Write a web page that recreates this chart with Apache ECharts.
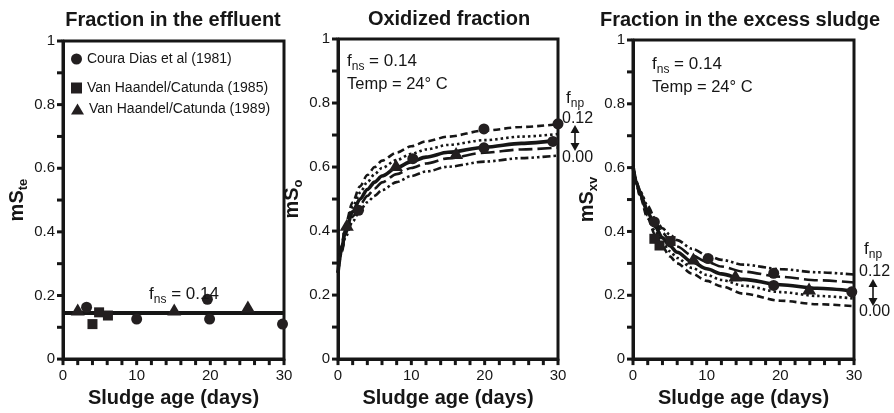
<!DOCTYPE html>
<html>
<head>
<meta charset="utf-8">
<title>Sulfate fractions vs sludge age</title>
<script src="https://cdn.jsdelivr.net/npm/echarts@6/dist/echarts.min.js"></script>
<style>
  html, body { margin: 0; padding: 0; background: #fff; }
  #chart { width: 894px; height: 413px; }
</style>
</head>
<body>
<div id="chart"></div>
<script>
// sample days used for the model curves
const curveDays = [0, 0.5, 1, 2, 3, 4, 5, 6, 8, 10, 12, 15, 20, 25, 30]

// tick positions (every 2 days, every 0.1)
const xTicks = [0, 2, 4, 6, 8, 10, 12, 14, 16, 18, 20, 22, 24, 26, 28, 30]
const yTicks = [0, 0.1, 0.2, 0.3, 0.4, 0.5, 0.6, 0.7, 0.8, 0.9, 1]

// panel 1 - fraction in the effluent
const effLevel = 0.145
const effCircles = [[3.2, 0.163], [10.0, 0.126], [19.6, 0.188], [19.9, 0.126], [29.8, 0.11]]
const effSquares = [[4.0, 0.11], [4.9, 0.147], [6.1, 0.137]]
const effTriangles = [[2.0, 0.156], [15.1, 0.156], [25.1, 0.165]]

// panel 2 - oxidized fraction (A short dash ... E dash-dot-dot)
const oxA = [0.27, 0.355, 0.42, 0.49, 0.54, 0.575, 0.60, 0.62, 0.645, 0.665, 0.68, 0.695, 0.714, 0.725, 0.734]
const oxB = [0.27, 0.35, 0.41, 0.475, 0.52, 0.553, 0.578, 0.597, 0.622, 0.641, 0.655, 0.669, 0.684, 0.695, 0.703]
const oxC = [0.27, 0.345, 0.40, 0.46, 0.50, 0.53, 0.553, 0.572, 0.598, 0.617, 0.631, 0.646, 0.662, 0.674, 0.684]
const oxD = [0.27, 0.34, 0.39, 0.445, 0.482, 0.51, 0.533, 0.552, 0.578, 0.597, 0.611, 0.627, 0.645, 0.655, 0.661]
const oxE = [0.27, 0.335, 0.38, 0.43, 0.465, 0.49, 0.51, 0.528, 0.553, 0.572, 0.586, 0.601, 0.617, 0.628, 0.636]
const oxCircles = [[2.8, 0.465], [10.2, 0.626], [19.9, 0.66], [19.9, 0.719], [29.3, 0.68], [30, 0.735]]
const oxTriangles = [[1.2, 0.42], [7.9, 0.606], [16.1, 0.644]]

// panel 3 - fraction in the excess sludge
const xvA = [0.605, 0.545, 0.505, 0.44, 0.39, 0.352, 0.322, 0.30, 0.268, 0.245, 0.228, 0.205, 0.183, 0.172, 0.166]
const xvB = [0.605, 0.548, 0.51, 0.45, 0.40, 0.365, 0.338, 0.317, 0.286, 0.264, 0.248, 0.23, 0.21, 0.198, 0.19]
const xvC = [0.605, 0.55, 0.515, 0.46, 0.415, 0.38, 0.355, 0.335, 0.305, 0.283, 0.267, 0.25, 0.233, 0.222, 0.213]
const xvD = [0.605, 0.553, 0.52, 0.47, 0.428, 0.396, 0.372, 0.353, 0.325, 0.305, 0.29, 0.274, 0.258, 0.247, 0.24]
const xvE = [0.605, 0.555, 0.525, 0.48, 0.44, 0.41, 0.39, 0.373, 0.346, 0.326, 0.311, 0.296, 0.282, 0.272, 0.265]
const xvCircles = [[2.9, 0.43], [10.2, 0.315], [19.1, 0.269], [19.1, 0.231], [29.7, 0.211]]
const xvSquares = [[2.9, 0.377], [3.6, 0.356], [5.1, 0.37]]
const xvTriangles = [[8.2, 0.315], [13.9, 0.262], [23.9, 0.221]]

const seriesNames = ['Coura Dias et al (1981)', 'Van Haandel/Catunda (1985)', 'Van Haandel/Catunda (1989)']
const titles = ['Fraction in the effluent', 'Oxidized fraction', 'Fraction in the excess sludge']
const yNames = ['te', 'o', 'xv']

const ink = '#161616'
const markColor = '#231f20'
const font = 'Liberation Sans, Arial, Helvetica, sans-serif'

const grids = [
  { left: 63, top: 41, width: 221, height: 320 },
  { left: 338, top: 39, width: 220, height: 321 },
  { left: 633, top: 40, width: 221, height: 320 }
]

const chart = echarts.init(document.getElementById('chart'), null, { renderer: 'canvas' })

const pairs = vals => curveDays.map((d, i) => [d, vals[i]])

const curve = (grid, vals, type, width) => ({
  type: 'line',
  xAxisIndex: grid,
  yAxisIndex: grid,
  data: pairs(vals),
  smooth: 0.3,
  smoothMonotone: 'x',
  showSymbol: false,
  silent: true,
  z: 2,
  lineStyle: { color: ink, width: width, type: type }
})

const dots = (grid, name, data, symbol, size) => ({
  name: name,
  type: 'scatter',
  xAxisIndex: grid,
  yAxisIndex: grid,
  data: data,
  symbol: symbol,
  symbolSize: size,
  itemStyle: { color: markColor, opacity: 1 },
  silent: true,
  z: 5
})

// outward tick nubs placed through the axis scales
const tickMarks = grid => [
  {
    type: 'scatter',
    xAxisIndex: grid,
    yAxisIndex: grid,
    data: xTicks.map(v => [v, 0]),
    symbol: 'rect',
    symbolSize: [3, 5],
    symbolOffset: [0, 3.5],
    clip: false,
    silent: true,
    itemStyle: { color: ink, opacity: 1 },
    z: 6
  },
  {
    type: 'scatter',
    xAxisIndex: grid,
    yAxisIndex: grid,
    data: yTicks.map(v => [0, v]),
    symbol: 'rect',
    symbolSize: [5, 3],
    symbolOffset: [-3.5, 0],
    clip: false,
    silent: true,
    itemStyle: { color: ink, opacity: 1 },
    z: 6
  }
]

const styleSet = [
  { type: [7, 4], width: 2.6 },
  { type: [2.5, 3], width: 2.6 },
  { type: 'solid', width: 3.6 },
  { type: [14, 5], width: 2.6 },
  { type: [8, 3, 2.5, 3, 2.5, 3], width: 2.6 }
]

const curveSeries = (grid, list) => list.map((vals, i) => curve(grid, vals, styleSet[i].type, styleSet[i].width))

const series = [
  {
    type: 'line',
    xAxisIndex: 0,
    yAxisIndex: 0,
    data: [[0, effLevel], [30, effLevel]],
    showSymbol: false,
    silent: true,
    lineStyle: { color: ink, width: 4 }
  },
  dots(0, seriesNames[0], effCircles, 'circle', 11),
  dots(0, seriesNames[1], effSquares, 'rect', 10),
  dots(0, seriesNames[2], effTriangles, 'triangle', [14, 12]),
  ...curveSeries(1, [oxA, oxB, oxC, oxD, oxE]),
  dots(1, seriesNames[0], oxCircles, 'circle', 11),
  dots(1, seriesNames[2], oxTriangles, 'triangle', [14, 12]),
  ...curveSeries(2, [xvA, xvB, xvC, xvD, xvE]),
  dots(2, seriesNames[0], xvCircles, 'circle', 11),
  dots(2, seriesNames[1], xvSquares, 'rect', 10),
  dots(2, seriesNames[2], xvTriangles, 'triangle', [14, 12]),
  ...tickMarks(0),
  ...tickMarks(1),
  ...tickMarks(2)
]

const xAxes = grids.map((g, i) => ({
  type: 'value',
  gridIndex: i,
  min: 0,
  max: 30,
  interval: 10,
  name: 'Sludge age (days)',
  nameLocation: 'middle',
  nameGap: 16,
  nameTextStyle: { fontSize: 20, fontWeight: 'bold', color: ink, fontFamily: font, verticalAlign: 'top' },
  axisLine: { show: true, lineStyle: { color: ink, width: 3 } },
  axisTick: { show: false },
  axisLabel: { margin: 9, fontSize: 15, color: ink, fontFamily: font },
  splitLine: { show: false }
}))

const yAxes = grids.map((g, i) => ({
  type: 'value',
  gridIndex: i,
  min: 0,
  max: 1,
  interval: 0.2,
  name: '{m|mS}{s|' + yNames[i] + '}',
  nameLocation: 'middle',
  nameRotate: 90,
  nameGap: 31,
  nameTextStyle: {
    rich: {
      m: { fontSize: 20, fontWeight: 'bold', lineHeight: 26, color: ink, fontFamily: font },
      s: { fontSize: 13, fontWeight: 'bold', lineHeight: 14, verticalAlign: 'bottom', color: ink, fontFamily: font }
    }
  },
  axisLine: { show: true, lineStyle: { color: ink, width: 3 } },
  axisTick: { show: false },
  axisLabel: {
    margin: 8,
    fontSize: 15,
    color: ink,
    fontFamily: font,
    formatter: v => (v === 0 ? '0' : v === 1 ? '1' : v.toFixed(1))
  },
  splitLine: { show: false }
}))

const subRich = size => ({
  f: { fontSize: size, lineHeight: 24, color: ink, fontFamily: font },
  s: { fontSize: Math.round(size * 0.72), lineHeight: 14, verticalAlign: 'bottom', color: ink, fontFamily: font }
})

const text = (x, y, str, opts) => ({
  type: 'text',
  x: x,
  y: y,
  silent: true,
  z: 10,
  style: Object.assign({ text: str, fill: ink, fontFamily: font, fontSize: 16, align: 'left', verticalAlign: 'middle' }, opts || {})
})

// double headed arrow for the f_np range
const arrow = (x, y1, y2) => ({
  type: 'group',
  silent: true,
  children: [
    { type: 'line', shape: { x1: x, y1: y1 + 5, x2: x, y2: y2 - 5 }, style: { stroke: ink, lineWidth: 1.6 } },
    { type: 'polygon', shape: { points: [[x, y1], [x - 4.5, y1 + 8], [x + 4.5, y1 + 8]] }, style: { fill: ink } },
    { type: 'polygon', shape: { points: [[x, y2], [x - 4.5, y2 - 8], [x + 4.5, y2 - 8]] }, style: { fill: ink } }
  ]
})

const graphics = [
  text(173, 20, titles[0], { align: 'center', fontSize: 20, fontWeight: 'bold' }),
  text(449, 19, titles[1], { align: 'center', fontSize: 20, fontWeight: 'bold' }),
  text(740, 20, titles[2], { align: 'center', fontSize: 20, fontWeight: 'bold' }),
  // effluent panel
  text(184, 294, '{f|f}{s|ns}{f| = 0.14}', { align: 'center', rich: subRich(17) }),
  // oxidized panel
  text(347, 61, '{f|f}{s|ns}{f| = 0.14}', { rich: subRich(17) }),
  text(347, 84, 'Temp = 24\u00b0 C', { fontSize: 16.5 }),
  text(566, 98, '{f|f}{s|np}', { rich: subRich(17) }),
  text(562, 119, '0.12', { fontSize: 16 }),
  arrow(575, 125, 151),
  text(562, 158, '0.00', { fontSize: 16 }),
  // excess sludge panel
  text(652, 64, '{f|f}{s|ns}{f| = 0.14}', { rich: subRich(17) }),
  text(652, 87, 'Temp = 24\u00b0 C', { fontSize: 16.5 }),
  text(864, 249, '{f|f}{s|np}', { rich: subRich(17) }),
  text(859, 272, '0.12', { fontSize: 16 }),
  arrow(873, 279, 306),
  text(859, 312, '0.00', { fontSize: 16 })
]

const legendTops = [52, 81, 102]
const legendSizes = [[11, 11], [11, 11], [13, 11]]

const option = {
  backgroundColor: '#fff',
  animation: false,
  grid: grids.map(g => Object.assign({ show: true, borderColor: ink, borderWidth: 3, containLabel: false }, g)),
  xAxis: xAxes,
  yAxis: yAxes,
  legend: seriesNames.map((name, i) => ({
    data: [name],
    left: 71,
    top: legendTops[i],
    padding: 0,
    itemWidth: legendSizes[i][0],
    itemHeight: legendSizes[i][1],
    selectedMode: false,
    textStyle: { fontSize: 14, color: ink, fontFamily: font, padding: [0, 0, 0, 0] }
  })),
  graphic: graphics,
  series: series
}

chart.setOption(option)

window.addEventListener('resize', () => {
  chart.resize()
})
</script>
</body>
</html>
